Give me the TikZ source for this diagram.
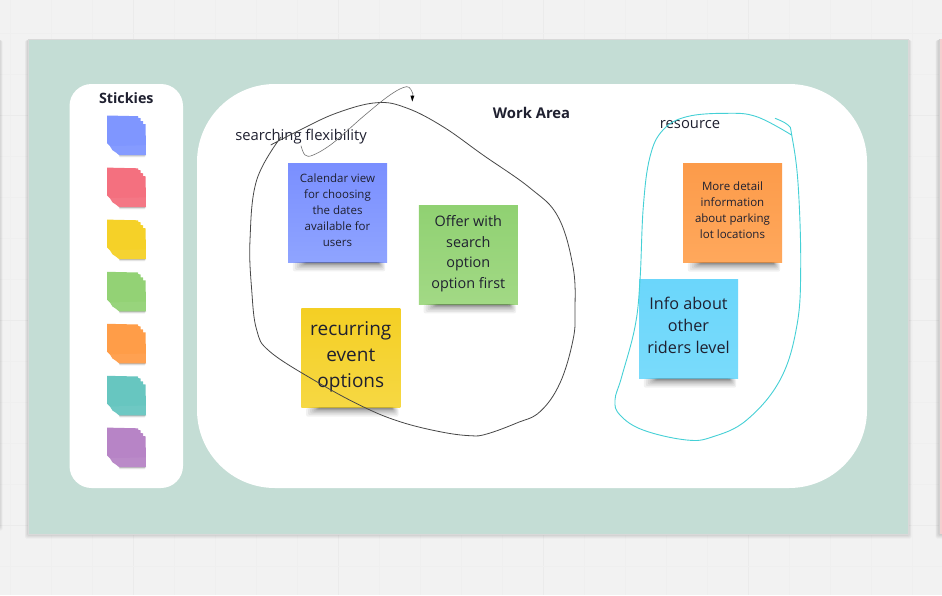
\documentclass[tikz,border=0pt]{standalone}
\usepackage{fontspec}
\setmainfont{Open Sans}
\definecolor{bgc}{HTML}{F2F2F2}
\definecolor{gridminor}{HTML}{EFEFEF}
\definecolor{gridmajor}{HTML}{EBEBEB}
\definecolor{boardc}{HTML}{C4DDD5}
\definecolor{inkc}{HTML}{1F2030}
\definecolor{pblue}{HTML}{7F96FF}
\definecolor{pred}{HTML}{F4707F}
\definecolor{pyellow}{HTML}{F5D128}
\definecolor{pgreen}{HTML}{93D275}
\definecolor{porange}{HTML}{FF9D48}
\definecolor{pteal}{HTML}{67C6C0}
\definecolor{ppurple}{HTML}{B784C6}
\definecolor{blueA}{HTML}{7A8FFF}
\definecolor{blueB}{HTML}{8FA4FF}
\definecolor{greenA}{HTML}{90D172}
\definecolor{greenB}{HTML}{A2D985}
\definecolor{yellowA}{HTML}{F4CF24}
\definecolor{yellowB}{HTML}{F6D843}
\definecolor{orangeA}{HTML}{FC9B4A}
\definecolor{orangeB}{HTML}{FFA85C}
\definecolor{skyA}{HTML}{6BD6FB}
\definecolor{skyB}{HTML}{79DBFB}
\definecolor{cyanline}{HTML}{45D0D6}
\tikzset{
  gridline/.style={gridminor,line width=.7pt},
  gridbold/.style={gridmajor,line width=1pt},
  panel/.style={fill=white,draw=none,inner sep=0pt},
  note/.style={inner sep=0pt,minimum width=99pt,minimum height=99pt,draw=none},
  notetext/.style={inner sep=0pt,align=center,text=inkc},
  smallfont/.style={font=\fontsize{11.5}{16}\selectfont},
  midfont/.style={font=\fontsize{14.4}{20.5}\selectfont},
  bigfont/.style={font=\fontsize{19}{26}\selectfont},
  infofont/.style={font=\fontsize{16.2}{22}\selectfont},
  labelfont/.style={font=\fontsize{14.8}{18}\selectfont,text=inkc,inner sep=0pt},
  headfont/.style={font=\fontsize{14.3}{18}\selectfont\bfseries,text=inkc,inner sep=0pt},
  sketchblack/.style={draw=black!72,line width=.8pt},
  sketchgrey/.style={draw=black!55,line width=.6pt},
  sketchcyan/.style={draw=cyanline,line width=.9pt},
}
\newcommand{\boardshadow}[4]{%
  \foreach \o in {1,2,3,4,5}{\fill[black,opacity=.03,rounded corners=1.5pt] (#1-\o*.7,#2+\o*.2) rectangle (#3+\o*.7,#4+\o*.9);}}
\newcommand{\notefoot}[1]{%
  \foreach \h/\i in {1/15,1.5/14,2/13,2.5/12,3/11,4/9.5,5/8,6/6,7.5/4,9/2}{%
    \fill[black,opacity=.055,rounded corners=2pt]
      ([xshift=\i+3pt]#1.south west) rectangle ([xshift={-\i*.5pt-1pt},yshift=-\h pt]#1.south east);}}
\newcommand{\stack}[2]{%
  \begin{scope}[shift={(0,#2)}]
  \foreach \h/\o in {.5/.12,1/.1,1.8/.08,2.6/.06}{\fill[black,opacity=\o,rounded corners=1pt] (119,38.5) rectangle (145.5,39.5+\h);}
  \fill[#1] (107,0.3) -- (138,1) -- (138,2.5) -- (140.5,3) -- (140.5,5.8) -- (143,6) -- (143,8.8) -- (145.6,9)
     -- (146,39.8) -- (119,39.8) -- (116,37.3) -- (112.5,35) -- (110,31) -- (107,28) -- cycle;
  \fill[white,opacity=.05] (110,31) -- (146,30) -- (146,39.8) -- (119,39.8) -- (116,37.3) -- (112.5,35) -- cycle;
  \end{scope}}
\begin{document}
\begin{tikzpicture}[x=1pt,y=-1pt]
\useasboundingbox (0,0) rectangle (942,595);
\fill[bgc] (0,0) rectangle (942,595);
% grid
\foreach \x in {10.5,51.5,92,174,215,256,297,379,420,461,502,584,625,666,707,789,830,871,912}{\draw[gridline] (\x,0) -- (\x,595);}
\foreach \x in {133,338,543,748}{\draw[gridbold] (\x,0) -- (\x,595);}
\foreach \y in {33,74,156,197,238,279,361,402,443,484,566}{\draw[gridline] (0,\y) -- (942,\y);}
\foreach \y in {115,320,525}{\draw[gridbold] (0,\y) -- (942,\y);}
% neighbouring boards
\boardshadow{-40}{39}{-1}{526}
\fill[bgc!90!black] (-4,39) rectangle (0.4,526);
\boardshadow{939}{39}{990}{534}
\fill[red!14!bgc] (939,39) rectangle (990,534);
\draw[black!18,line width=.5pt] (939,39) -- (939,534);
% main board
\boardshadow{28.5}{39}{908}{534}
\fill[boardc] (28.5,39) rectangle (908,534);
\draw[black!15,line width=.8pt] (28.5,39) rectangle (908,534);
% panels
\node[panel,rounded corners=22pt,minimum width=113.5pt,minimum height=404pt] (stickiespanel) at (126.25,286) {};
\node[panel,rounded corners=78pt,minimum width=670pt,minimum height=404pt] (workpanel) at (532,286) {};
\node[headfont] (stickieshead) at (126.3,98.3) {Stickies};
\node[headfont,font=\fontsize{14.8}{18}\selectfont\bfseries] (workhead) at (531.5,113) {Work Area};
% palette
\stack{pblue}{115.2}
\stack{pred}{167.3}
\stack{pyellow}{219.3}
\stack{pgreen}{271.5}
\stack{porange}{323.5}
\stack{pteal}{375.5}
\stack{ppurple}{427.3}
% large notes
\node[note,top color=blueA,bottom color=blueB] (calendar) at (337.5,212.7) {};
\node[note,top color=greenA,bottom color=greenB] (offer) at (468.3,254.7) {};
\node[note,top color=yellowA,bottom color=yellowB] (recurring) at (350.8,358) {};
\node[note,top color=orangeA,bottom color=orangeB] (parking) at (732.5,213) {};
\node[note,top color=skyA,bottom color=skyB] (riders) at (688.5,329) {};
\foreach \n in {calendar,offer,recurring,parking,riders}{\notefoot{\n}}
\node[notetext,smallfont] (calendartext) at ([yshift=2.5pt]calendar.center) {Calendar view\\for choosing\\the dates\\available for\\users};
\node[notetext,midfont] (offertext) at ([yshift=1pt]offer.center) {Offer with\\search\\option\\option first};
\node[notetext,bigfont] (recurringtext) at ([yshift=1pt]recurring.center) {recurring\\event\\options};
\node[notetext,smallfont] (parkingtext) at ([yshift=3pt]parking.center) {More detail\\information\\about parking\\lot locations};
\node[notetext,infofont] (riderstext) at ([yshift=4pt]riders.center) {Info about\\other\\riders level};
% labels
\node[labelfont] (searchlabel) at (301,137) {searching flexibility};
\node[labelfont] (resourcelabel) at (690,125) {resource};
% freehand sketches
\draw[sketchblack] plot[smooth,tension=.65] coordinates {(270.7,145) (300,130) (336.7,113) (376.7,102.7) (406.7,108) (443,126.7) (483,155) (530,188) (558,216.7) (573,266.7) (575,310) (573,340) (560,383) (540,411.7) (516.7,423) (486.7,434) (470,435.7) (440,431.7) (400,421.7) (363,406.7) (316.7,381.7) (270,351.7) (256.7,330) (251.7,290) (250,240) (256.7,180) (281,137)};
\coordinate (loopend) at (412.3,101.5);
\draw[sketchgrey] plot[smooth,tension=.6] coordinates {(301,145.7) (305,155) (313.3,155) (333,143) (363,116.7) (390,95) (406.7,86.7) (412.7,93.3) (412.4,96)};
\fill[black] (loopend) -- (410.4,95.6) -- (414.4,95.6) -- cycle;
\draw[sketchcyan] plot[smooth,tension=.65] coordinates {(775,118.3) (788,125) (791.7,135) (798,183) (800.7,266.7) (796.7,326.7) (780,380) (746.7,420) (713,436.7) (686.7,440) (643,430) (620,415) (615,400) (621.7,376.7) (635,326.7) (640,280) (643.3,206.7) (650,156.7) (663,130) (686.7,116.7) (726.7,113.3) (756.7,116.7) (791.5,135)};
\end{tikzpicture}
\end{document}
